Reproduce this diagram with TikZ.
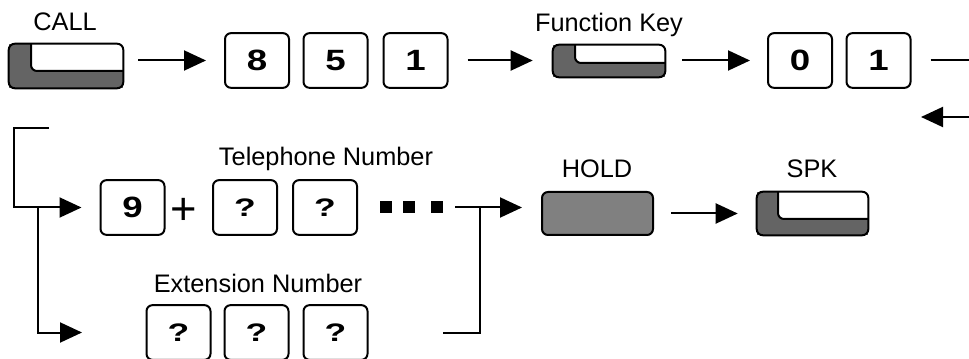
\documentclass[tikz,border=0pt]{standalone}
\usepackage{fontspec}
\usepackage{graphicx}
\setmainfont{Liberation Sans}
\usetikzlibrary{arrows.meta,calc}
\definecolor{keydark}{RGB}{100,100,100}
\definecolor{holdgray}{RGB}{128,128,128}
\newcommand\dg[1]{\scalebox{1.25}[1]{#1}}
\newcommand\qm{{\fontsize{19}{19}\selectfont\scalebox{1.4}[1]{?}}}
% name, L, T, R, B, inner x, inner bottom (pixel units)
\newcommand\telkey[7]{%
  \node[keybase, minimum width={(#4-#2)*0.75pt}, minimum height={(#5-#3)*0.75pt}] (#1) at ({(#2+#4)/2},{(#3+#5)/2}) {};
  \fill[white, rounded corners=4.5pt] (#6,#3-3) -- (#6,#7) -- (#4+3,#7) -- (#4+3,#3-3) -- (#6,#3-3);
  \draw[flow, rounded corners=4.5pt] (#6,#3) -- (#6,#7) -- (#4,#7);
  \draw[flow, rounded corners=4.5pt] (#1.north west) rectangle (#1.south east);
}
\begin{document}
\begin{tikzpicture}[x=0.75pt,y=-0.75pt,
  numkey/.style={draw, line width=1.5pt, rounded corners=4.5pt, minimum width=48pt, minimum height=41pt, inner sep=0pt, font=\bfseries\fontsize{22}{22}\selectfont},
  lbl/.style={font=\fontsize{19}{19}\selectfont, inner sep=0pt, anchor=base},
  flow/.style={line width=1.5pt},
  arr/.style={flow, -{Triangle[length=16.5pt,width=15pt]}},
  sqdot/.style={fill=black, minimum size=9pt, inner sep=0pt},
  keybase/.style={fill=keydark, inner sep=0pt}]
\useasboundingbox (0,0) rectangle (969,359);

% ---- row 1 ----
\telkey{call}{9}{44}{123}{88}{31}{71}
\node[lbl] (callL) at (65,31) {CALL};
\node[numkey] (b8) at (257,60.5) {\dg{8}};
\node[numkey] (b5) at (335.5,60.5) {\dg{5}};
\node[numkey] (b1) at (415.5,60.5) {\dg{1}};
\telkey{fkey}{553}{45}{665}{77}{575}{63}
\node[lbl] (fkeyL) at (609,32) {Function Key};
\node[numkey] (b0) at (800,60.5) {\dg{0}};
\node[numkey] (b1b) at (878.5,60.5) {\dg{1}};
\coordinate (outR) at (969,60.5);
\coordinate (inR) at (969,117);
\coordinate (retEnd) at (921,117);

\draw[arr, shorten <=11.25pt, shorten >=13.5pt] (call.east |- b8.west) -- (b8.west);
\draw[arr, shorten <=14.25pt, shorten >=15pt] (b1.east) -- (fkey.west |- b1.east);
\draw[arr, shorten <=12.75pt, shorten >=12.75pt] (fkey.east |- b0.west) -- (b0.west);
\draw[flow, shorten <=14.25pt] (b1b.east) -- (outR);
\draw[arr] (inR) -- (retEnd);

% ---- row 2 ----
\node[numkey] (b9) at (132.5,207.5) {\dg{9}};
\node[font=\fontsize{34}{34}\selectfont, inner sep=0pt] (plus) at (184,211) {+};
\node[numkey] (q1) at (245,207.5) {\qm};
\node[numkey] (q2) at (325,207.5) {\qm};
\node[lbl] (telL) at (326,166) {Telephone Number};
\node[sqdot] (sq1) at (386,207.5) {};
\node[sqdot] (sq2) at (408.5,207.5) {};
\node[sqdot] (sq3) at (436.5,207.5) {};
\node[draw, line width=1.5pt, rounded corners=4.5pt, fill=holdgray, minimum width=83.25pt, minimum height=32.25pt, inner sep=0pt] (hold) at (597.5,213.5) {};
\node[lbl] (holdL) at (597,178) {HOLD};
\telkey{spk}{757}{192}{868}{235}{778}{219}
\node[lbl] (spkL) at (812,178) {SPK};

\coordinate (brTop) at (49,128);
\coordinate (brL) at (14,128);
\coordinate (brJ) at (38,207.5);
\coordinate (extIn) at (82,332.5);
\coordinate (mJ) at (480,207.5);
\coordinate (extOut) at (443,332.5);

\draw[arr, shorten >=13.5pt] (brTop) -- (brL) |- (b9.west);
\draw[arr] (brJ) |- (extIn);
\draw[arr, shorten <=9.4pt, shorten >=14.25pt] (sq3.east) -- (hold.west |- sq3.east);
\draw[flow] (mJ) |- (extOut);
\draw[arr, shorten <=12.75pt, shorten >=14.25pt] (hold.east) -- (spk.west |- hold.east);

% ---- row 3 ----
\node[lbl] (extL) at (258,292) {Extension Number};
\node[numkey] (e1) at (178.5,332.5) {\qm};
\node[numkey] (e2) at (256.5,332.5) {\qm};
\node[numkey] (e3) at (335.5,332.5) {\qm};
\end{tikzpicture}
\end{document}
